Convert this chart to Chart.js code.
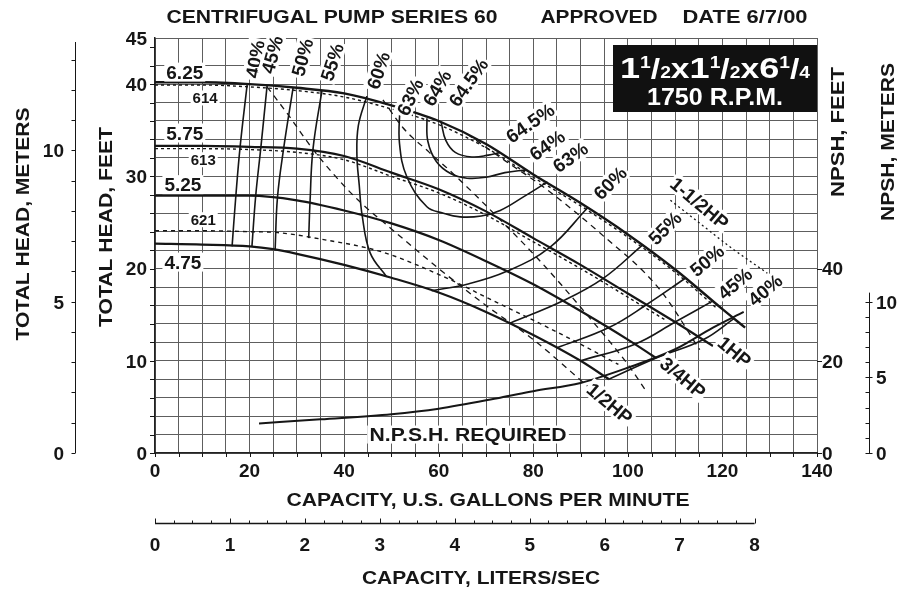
<!DOCTYPE html>
<html>
<head>
<meta charset="utf-8">
<script src="https://cdn.jsdelivr.net/npm/chart.js@4.4.1/dist/chart.umd.min.js"></script>
<style>
html,body{margin:0;padding:0;background:#fff;overflow:hidden}
#wrap{width:903px;height:591px}
canvas{display:block}
</style>
</head>
<body>
<div id="wrap"><canvas id="chart" width="903" height="591"></canvas></div>
<script>
// ================= DATA =================
// capacity in U.S. GPM, total head in feet
const gpmTicks    = [0, 20, 40, 60, 80, 100, 120, 140];
const headFtTicks = [0, 10, 20, 30, 40, 45];
const headMTicks  = [0, 5, 10];
const npshFtTicks = [0, 20, 40];
const npshMTicks  = [0, 5, 10];
const lpsTicks    = [0, 1, 2, 3, 4, 5, 6, 7, 8];

// impeller head curves [gpm, ft]
const imp625 = [[0,40.2],[10,40.2],[20,40.0],[30,39.6],[40,39.0],[50,37.7],[60,36.0],[70,33.5],[80,30.2],[90,27.1],[100,23.7],[110,19.9],[120,15.6],[124.8,13.6]];
const imp614 = [[0,39.9],[10,39.9],[20,39.7],[30,39.3],[40,38.6],[50,37.3],[60,35.6],[70,33.1],[80,29.9],[90,26.8],[100,23.4],[110,19.6],[119,15.6]];
const imp575 = [[0,33.3],[10,33.3],[20,33.2],[30,33.0],[40,32.2],[50,30.4],[60,28.6],[70,26.2],[80,23.3],[90,20.4],[100,17.3],[110,14.2],[118,11.6]];
const imp613 = [[0,33.0],[10,33.0],[20,32.9],[30,32.6],[40,31.8],[50,30.0],[60,28.2],[70,25.8],[80,22.9],[90,20.0],[100,16.9],[108,14.4]];
const imp525 = [[0,27.9],[10,27.9],[20,27.9],[30,27.4],[40,26.3],[50,24.9],[60,23.1],[70,20.8],[80,18.3],[90,15.4],[100,12.3],[106,10.3]];
const imp621 = [[0,24.1],[10,24.1],[20,24.0],[26,23.9],[35,23.2],[48,21.8],[62,18.9],[70,16.9],[80,14.4],[90,11.8],[98,9.6]];
const imp475 = [[0,22.7],[10,22.6],[20,22.4],[25,22.1],[30,21.6],[40,20.4],[50,19.0],[60,17.4],[70,15.3],[80,12.8],[90,10.0],[96,8.0]];

// efficiency iso-lines [gpm, ft]
const eff40L = [[19.5,40.0],[18.0,33.2],[17.1,27.9],[16.3,22.4]];
const eff45L = [[23.7,39.8],[22.4,33.2],[21.3,27.9],[20.5,22.4]];
const eff50L = [[29.2,39.6],[27.2,33.0],[25.9,27.7],[25.4,22.0]];
const eff55L = [[35.3,39.3],[33.4,32.9],[32.8,27.4],[32.5,23.3]];
const eff60L = [[44.8,38.7],[43.0,35.5],[42.7,32.3],[43.2,29.0],[43.8,25.8],[45.5,21.7],[49.0,19.1]];
const eff63  = [[51.8,37.5],[51.7,33.6],[53.3,29.9],[57.5,26.7],[61,26.0],[64.5,25.6],[69,25.7],[73,26.3],[78,27.8],[83,29.4]];
const eff64  = [[57.5,36.3],[57.7,33.8],[59.5,31.6],[62.5,30.3],[66,29.8],[70,29.9],[74,30.4],[78.5,30.7]];
const eff645 = [[60.5,35.9],[61.5,33.9],[63.5,32.6],[67,32.1],[70.5,32.3],[73,32.6]];
const eff60R = [[91.5,26.6],[83.5,22.3],[74.4,19.7],[66,18.3],[58.5,17.6]];
const eff55R = [[103.2,22.6],[94.7,18.9],[86.3,16.5],[75,14.05]];
const eff50R = [[112.3,19.0],[104,16.1],[96,13.6],[85,11.4]];
const eff45R = [[118,16.5],[110,14.2],[101.5,11.8],[90,10.0]];
const eff40R = [[122.5,14.6],[116,12.3],[106,10.3],[96,8.0]];

// motor horsepower lines [gpm, ft]
const hpHalf    = [[23.7,39.7],[28,36.8],[33,33.2],[38,30.1],[43,27.4],[50,24.3],[60,20.0],[70,16.0],[80,12.3],[92,7.0]];
const hpThreeQ  = [[48.2,38.3],[52.4,35.3],[58,32.6],[62.4,30.6],[72,25.8],[82,20.5],[92,14.6],[100,9.6],[104,6.6]];
const hpOne     = [[66,34.6],[74,31.7],[82,28.9],[94,23.9],[106.8,17.7],[115.2,11.2]];
const hpOneHalf = [[109,27.4],[115,25.0],[122,22.2],[129.5,19.5]];

// NPSH required [gpm, NPSH ft]
const npshReq = [[22,6.4],[35,7.3],[50,8.4],[60,9.6],[73,12.0],[80,13.4],[90,15.2],[100,18.5],[110,22.5],[118,27.2],[124.5,30.6]];

// ================= LABELS (anchored in data units) =================
const curveLabels = [
  {t:'6.25', x:6.3,  y:41.3, size:19},
  {t:'614',  x:10.6, y:38.5, size:15},
  {t:'5.75', x:6.3,  y:34.7, size:19},
  {t:'613',  x:10.2, y:31.8, size:15},
  {t:'5.25', x:5.9,  y:29.1, size:19},
  {t:'621',  x:10.2, y:25.3, size:15},
  {t:'4.75', x:5.9,  y:20.7, size:19},
  {t:'40%',  x:21.1, y:42.7, rot:-80, size:19},
  {t:'45%',  x:24.7, y:43.2, rot:-75, size:19},
  {t:'50%',  x:31.1, y:42.9, rot:-75, size:19},
  {t:'55%',  x:37.4, y:42.4, rot:-72, size:19},
  {t:'60%',  x:47.2, y:41.5, rot:-72, size:19},
  {t:'63%',  x:53.9, y:38.6, rot:-65, size:19},
  {t:'64%',  x:59.6, y:39.6, rot:-60, size:19},
  {t:'64.5%',x:66.2, y:40.2, rot:-55, size:19},
  {t:'64.5%',x:79.3, y:35.8, rot:-35, size:19},
  {t:'64%',  x:82.9, y:33.4, rot:-35, size:19},
  {t:'63%',  x:87.8, y:32.1, rot:-35, size:19},
  {t:'60%',  x:96.2, y:29.3, rot:-45, size:19},
  {t:'55%',  x:107.8,y:24.4, rot:-45, size:19},
  {t:'50%',  x:116.7,y:20.9, rot:-40, size:19},
  {t:'45%',  x:122.6,y:18.4, rot:-40, size:19},
  {t:'40%',  x:129.0,y:17.7, rot:-40, size:19},
  {t:'1-1/2HP', x:115.2, y:27.1, rot:40, size:19},
  {t:'1HP',  x:122.6,y:11.0, rot:40, size:19},
  {t:'3/4HP',x:111.7,y:8.2,  rot:40, size:19},
  {t:'1/2HP',x:96.2, y:5.4,  rot:40, size:19},
  {t:'N.P.S.H. REQUIRED', x:66.2, y:2.0, size:18, w:197}
];

// ================= RENDERING =================
const GPM_PER_LPS = 15.8503;
const FT_PER_M = 3.28084;
const FONT = '"Liberation Sans", Arial, Helvetica, sans-serif';
const INK = '#161616';

function pts(a){ return a.map(p => ({x:p[0], y:p[1]})); }
function ds(a, o){
  return Object.assign({
    type:'scatter', data:pts(a), showLine:true, pointRadius:0, pointHoverRadius:0,
    borderColor:INK, borderWidth:1.6, fill:false, tension:0.4
  }, o || {});
}

function drawText(ctx, s, x, y, o){
  o = o || {};
  const size = o.size || 16;
  ctx.save();
  ctx.translate(x, y);
  if (o.rot) ctx.rotate(o.rot * Math.PI / 180);
  ctx.font = (o.weight || 'bold') + ' ' + size + 'px ' + FONT;
  ctx.textAlign = 'left';
  ctx.textBaseline = 'alphabetic';
  const w = ctx.measureText(s).width;
  if (o.w) ctx.scale(o.w / w, 1);
  const x0 = o.align === 'left' ? 0 : (o.align === 'right' ? -w : -w / 2);
  if (o.bg) {
    ctx.fillStyle = o.bg;
    ctx.fillRect(x0 - 2, -size * 0.5, w + 4, size);
  }
  ctx.fillStyle = o.color || INK;
  ctx.fillText(s, x0, size * 0.36);
  ctx.restore();
}

const decorPlugin = {
  id: 'decor',
  beforeDraw(chart){
    const ctx = chart.ctx;
    ctx.save(); ctx.fillStyle = '#fff'; ctx.fillRect(0, 0, chart.width, chart.height); ctx.restore();
  },
  afterDatasetsDraw(chart){
    const ctx = chart.ctx, ca = chart.chartArea;
    const xs = chart.scales.x, ys = chart.scales.y, yN = chart.scales.yN,
          yM = chart.scales.yM, yNM = chart.scales.yNM, xL = chart.scales.xL;

    // curve labels (white knock-out behind text)
    curveLabels.forEach(l => {
      drawText(ctx, l.t, xs.getPixelForValue(l.x), ys.getPixelForValue(l.y),
               {size:l.size, rot:l.rot || 0, bg:'#fff', w:l.w});
    });

    ctx.save();
    ctx.strokeStyle = INK; ctx.lineWidth = 1;
    // tick marks of main axes
    for (let v = 0; v <= 140; v += 5) {
      const px = Math.round(xs.getPixelForValue(v)) + 0.5;
      ctx.beginPath(); ctx.moveTo(px, ca.bottom); ctx.lineTo(px, ca.bottom + 4); ctx.stroke();
    }
    for (let v = 0; v <= 44; v += 2) {
      const py = Math.round(ys.getPixelForValue(v)) + 0.5;
      ctx.beginPath(); ctx.moveTo(ca.left - 5, py); ctx.lineTo(ca.left, py); ctx.stroke();
    }
    // NPSH feet ticks on right edge
    npshFtTicks.forEach(v => {
      const py = Math.round(yN.getPixelForValue(v)) + 0.5;
      ctx.beginPath(); ctx.moveTo(ca.right, py); ctx.lineTo(ca.right + 5, py); ctx.stroke();
    });
    // total head meters axis (outer left)
    const mx = 75.5;
    ctx.beginPath(); ctx.moveTo(mx, yM.getPixelForValue(0)); ctx.lineTo(mx, yM.getPixelForValue(45 / FT_PER_M) + 4); ctx.stroke();
    for (let v = 0; v <= 13; v++) {
      const py = Math.round(yM.getPixelForValue(v)) + 0.5;
      ctx.beginPath(); ctx.moveTo(mx - 4, py); ctx.lineTo(mx, py); ctx.stroke();
    }
    // NPSH meters axis (outer right)
    const nx = 869.5;
    ctx.beginPath(); ctx.moveTo(nx, yNM.getPixelForValue(0)); ctx.lineTo(nx, yNM.getPixelForValue(10.6)); ctx.stroke();
    for (let v = 0; v <= 10; v++) {
      const py = Math.round(yNM.getPixelForValue(v)) + 0.5;
      const major = npshMTicks.includes(v);
      ctx.beginPath(); ctx.moveTo(nx - 4, py); ctx.lineTo(nx + (major ? 3 : 0), py); ctx.stroke();
    }
    // liters/sec axis
    const ly = 523.5;
    ctx.lineWidth = 1.3;
    ctx.beginPath(); ctx.moveTo(xL.getPixelForValue(0), ly); ctx.lineTo(xL.getPixelForValue(8), ly); ctx.stroke();
    ctx.lineWidth = 1;
    for (let v = 0; v <= 8.001; v += 0.25) {
      const px = Math.round(xL.getPixelForValue(v)) + 0.5;
      const major = Math.abs(v - Math.round(v)) < 1e-6;
      ctx.beginPath(); ctx.moveTo(px, ly); ctx.lineTo(px, ly - (major ? 5 : 3)); ctx.stroke();
    }
    ctx.restore();

    // tick labels
    gpmTicks.forEach(v => drawText(ctx, String(v), xs.getPixelForValue(v), ca.bottom + 17, {size:19}));
    headFtTicks.forEach(v => drawText(ctx, String(v), ca.left - 8, ys.getPixelForValue(v), {size:19, align:'right'}));
    headMTicks.forEach(v => drawText(ctx, String(v), 64, yM.getPixelForValue(v), {size:19, align:'right'}));
    npshFtTicks.forEach(v => drawText(ctx, String(v), ca.right + 5, yN.getPixelForValue(v), {size:19, align:'left'}));
    npshMTicks.forEach(v => drawText(ctx, String(v), 876, yNM.getPixelForValue(v), {size:19, align:'left'}));
    lpsTicks.forEach(v => drawText(ctx, String(v), xL.getPixelForValue(v), 544, {size:19}));

    // axis titles
    drawText(ctx, 'CAPACITY, U.S. GALLONS PER MINUTE', 488, 500, {size:18, w:403});
    drawText(ctx, 'CAPACITY, LITERS/SEC', 481, 578, {size:18, w:238});
    drawText(ctx, 'TOTAL HEAD, METERS', 23, 224, {size:18, rot:-90, w:233});
    drawText(ctx, 'TOTAL HEAD, FEET', 106, 227, {size:18, rot:-90, w:200});
    drawText(ctx, 'NPSH, FEET', 838, 132, {size:18, rot:-90, w:130});
    drawText(ctx, 'NPSH, METERS', 888, 142, {size:18, rot:-90, w:158});

    // header
    drawText(ctx, 'CENTRIFUGAL PUMP SERIES 60', 332, 17, {size:18, w:331});
    drawText(ctx, 'APPROVED', 599, 17, {size:18, w:117});
    drawText(ctx, 'DATE 6/7/00', 745, 17, {size:18, w:125});

    // model box
    const bx0 = ca.right - 204, bx1 = ca.right, by0 = ca.top + 7, by1 = ca.top + 74;
    ctx.save();
    ctx.fillStyle = '#111';
    ctx.fillRect(bx0, by0, bx1 - bx0, by1 - by0);
    const pieces = [['1',30,0],['1',16,-10],['/',28,0],['2',16,0],['x',28,0],
                    ['1',30,0],['1',16,-10],['/',28,0],['2',16,0],['x',28,0],
                    ['6',30,0],['1',16,-10],['/',28,0],['4',16,0]];
    let tw = 0;
    pieces.forEach(p => { ctx.font = 'bold ' + p[1] + 'px ' + FONT; p.push(ctx.measureText(p[0]).width); tw += p[3]; });
    const target = 190, sc = target / tw, cx = (bx0 + bx1) / 2, base = by0 + 33;
    ctx.translate(cx - target / 2, base);
    ctx.scale(sc, 1);
    ctx.fillStyle = '#fff';
    let xx = 0;
    pieces.forEach(p => { ctx.font = 'bold ' + p[1] + 'px ' + FONT; ctx.fillText(p[0], xx, p[2]); xx += p[3]; });
    ctx.restore();
    drawText(ctx, '1750 R.P.M.', (bx0 + bx1) / 2, by0 + 52, {size:23, w:136, color:'#fff'});
  }
};

const GRID = '#5e5e5e';
const chart = new Chart(document.getElementById('chart'), {
  type: 'scatter',
  data: {
    datasets: [
      ds(imp625, {borderWidth:2.4, cubicInterpolationMode:'monotone'}),
      ds(imp614, {borderWidth:1.4, borderDash:[3,3], cubicInterpolationMode:'monotone'}),
      ds(imp575, {borderWidth:2.2, cubicInterpolationMode:'monotone'}),
      ds(imp613, {borderWidth:1.4, borderDash:[3,3], cubicInterpolationMode:'monotone'}),
      ds(imp525, {borderWidth:2.2, cubicInterpolationMode:'monotone'}),
      ds(imp621, {borderWidth:1.4, borderDash:[4,4], cubicInterpolationMode:'monotone'}),
      ds(imp475, {borderWidth:2.2, cubicInterpolationMode:'monotone'}),
      ds(eff40L), ds(eff45L), ds(eff50L), ds(eff55L), ds(eff60L),
      ds(eff63), ds(eff64), ds(eff645),
      ds(eff60R), ds(eff55R), ds(eff50R), ds(eff45R), ds(eff40R),
      ds(hpHalf,   {borderWidth:1.3, borderDash:[6,5], cubicInterpolationMode:'monotone'}),
      ds(hpThreeQ, {borderWidth:1.3, borderDash:[6,5], cubicInterpolationMode:'monotone'}),
      ds(hpOne,    {borderWidth:1.3, borderDash:[6,5], cubicInterpolationMode:'monotone'}),
      ds(hpOneHalf,{borderWidth:1.3, borderDash:[2,3], cubicInterpolationMode:'monotone'}),
      ds(npshReq,  {yAxisID:'yN', borderWidth:2, cubicInterpolationMode:'monotone'})
    ]
  },
  options: {
    responsive: false,
    devicePixelRatio: 1,
    animation: false,
    events: [],
    layout: {padding: {left:155, right:86, top:38, bottom:138}},
    plugins: {legend:{display:false}, tooltip:{enabled:false}},
    scales: {
      x: {type:'linear', axis:'x', position:'bottom', min:0, max:140,
          ticks:{display:false, stepSize:5},
          grid:{color:GRID, lineWidth:1, drawTicks:false},
          border:{display:true, color:'#222', width:1.5}},
      y: {type:'linear', axis:'y', position:'left', min:0, max:45,
          ticks:{display:false, stepSize:2},
          grid:{color:GRID, lineWidth:1, drawTicks:false},
          border:{display:true, color:'#222', width:1.5}},
      yN:  {type:'linear', axis:'y', position:'right', min:0, max:90, display:false},
      yM:  {type:'linear', axis:'y', position:'left', min:0, max:45 / FT_PER_M, display:false},
      yNM: {type:'linear', axis:'y', position:'right', min:0, max:90 / FT_PER_M, display:false},
      xL:  {type:'linear', axis:'x', position:'bottom', min:0, max:140 / GPM_PER_LPS, display:false}
    }
  },
  plugins: [decorPlugin]
});
</script>
</body>
</html>
